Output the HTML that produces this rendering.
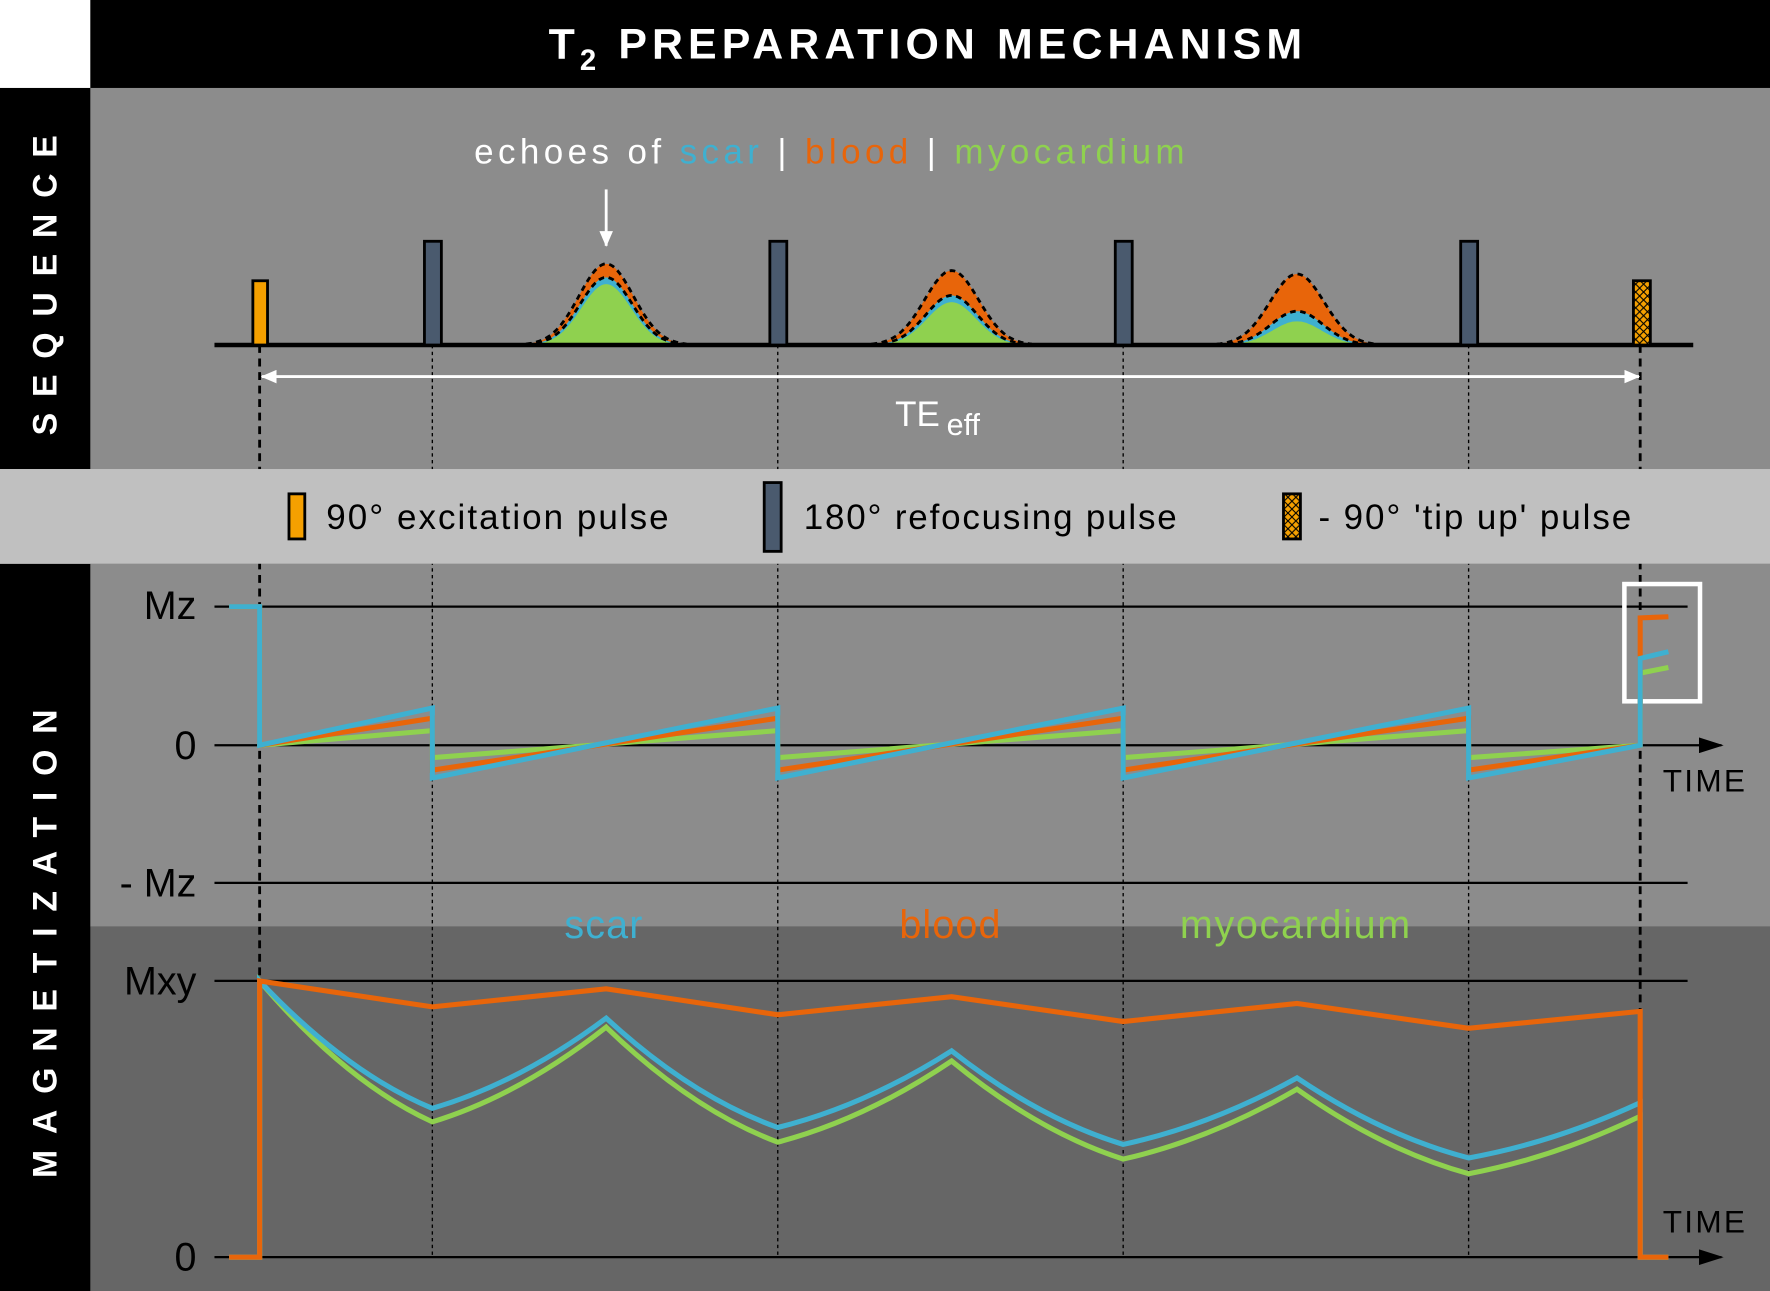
<!DOCTYPE html>
<html><head><meta charset="utf-8"><style>
html,body{margin:0;padding:0;background:#fff}
svg{display:block}
text{font-family:"Liberation Sans","DejaVu Sans",sans-serif}
</style></head><body>
<svg id="s" width="1770" height="1291" viewBox="0 0 1568 1145" preserveAspectRatio="none" xmlns="http://www.w3.org/2000/svg">
<defs>
<marker id="ah" markerWidth="14" markerHeight="12" refX="13" refY="6" orient="auto" markerUnits="userSpaceOnUse"><path d="M0,0 L14,6 L0,12 z" fill="#fff"/></marker>
<marker id="ahs" markerWidth="14" markerHeight="12" refX="1" refY="6" orient="auto" markerUnits="userSpaceOnUse"><path d="M14,0 L0,6 L14,12 z" fill="#fff"/></marker>
<marker id="ak" markerWidth="22" markerHeight="14" refX="20" refY="7" orient="auto" markerUnits="userSpaceOnUse"><path d="M0,0 L22,7 L0,14 z" fill="#000"/></marker>
<pattern id="hatch" width="7" height="7" patternUnits="userSpaceOnUse"><rect width="7" height="7" fill="#f5a000"/><path d="M0,0 L7,7 M7,0 L0,7" stroke="#000" stroke-width="1"/></pattern>
</defs>
<rect x="0" y="0" width="1568" height="1145" fill="#000"/>
<rect x="0" y="0" width="80" height="78" fill="#fff"/>
<rect x="80" y="78" width="1488" height="338" fill="#8c8c8c"/>
<rect x="0" y="416" width="1568" height="84" fill="#c0c0c0"/>
<rect x="80" y="500" width="1488" height="322" fill="#8c8c8c"/>
<rect x="80" y="822" width="1488" height="323" fill="#666"/>
<text x="822" y="52" fill="#fff" font-size="38" font-weight="bold" text-anchor="middle" letter-spacing="4.5">T<tspan font-size="26" dy="10">2</tspan><tspan dy="-10"> PREPARATION MECHANISM</tspan></text>
<text transform="translate(50,246) rotate(-90)" fill="#fff" font-size="30" font-weight="bold" text-anchor="middle" letter-spacing="14">SEQUENCE</text>
<text transform="translate(50,830) rotate(-90)" fill="#fff" font-size="30" font-weight="bold" text-anchor="middle" letter-spacing="14">MAGNETIZATION</text>
<g id="g"></g>
</svg>
<script>
const g=document.getElementById('g');let h='';
const S='#3fb0d0',B='#e8650a',M='#8fd14f';
h+=`<line x1="230" y1="306" x2="230" y2="1115" stroke="#000" stroke-width="2.5" stroke-dasharray="7,5"/>`;
h+=`<line x1="1453" y1="306" x2="1453" y2="1115" stroke="#000" stroke-width="2.5" stroke-dasharray="7,5"/>`;
for(const x of [383,689,995,1301])h+=`<line x1="${x}" y1="306" x2="${x}" y2="1115" stroke="#000" stroke-width="1.2" stroke-dasharray="3,3"/>`;
h+=`<rect x="0" y="416" width="1568" height="84" fill="#c0c0c0"/>`;
function gp(c,amp,w){let p=`M${c-70},306`;for(let x=-70;x<=70;x+=2){p+=` L${c+x},${(306-amp*Math.exp(-x*x/(2*w*w))).toFixed(1)}`}return p+` L${c+70},306 Z`;}
const ech=[[537,72,60,54],[843,66,44,38],[1149,63,30,21]];
for(const [c,b,s,m] of ech){
h+=`<path d="${gp(c,b,24)}" fill="${B}" stroke="#000" stroke-width="2.5" stroke-dasharray="5,4"/>`;
h+=`<path d="${gp(c,s,23)}" fill="${S}" stroke="#000" stroke-width="2.5" stroke-dasharray="5,4"/>`;
h+=`<path d="${gp(c,m,22)}" fill="${M}"/>`;}
h+=`<line x1="190" y1="306" x2="1500" y2="306" stroke="#000" stroke-width="4"/>`;
h+=`<rect x="224" y="249" width="13" height="57" fill="#f5a000" stroke="#000" stroke-width="2.5"/>`;
for(const x of [376,682,988,1294])h+=`<rect x="${x}" y="214" width="15" height="92" fill="#4a5a6e" stroke="#000" stroke-width="2.5"/>`;
h+=`<rect x="1447" y="249" width="15" height="57" fill="url(#hatch)" stroke="#000" stroke-width="2.5"/>`;
h+=`<line x1="537" y1="168" x2="537" y2="218" stroke="#fff" stroke-width="2.5" marker-end="url(#ah)"/>`;
h+=`<text x="420" y="145" font-size="31" fill="#fff" letter-spacing="3.9">echoes of <tspan fill="${S}">scar</tspan> | <tspan fill="${B}">blood</tspan> | <tspan fill="${M}">myocardium</tspan></text>`;
h+=`<line x1="232" y1="334" x2="1452" y2="334" stroke="#fff" stroke-width="2.5" marker-end="url(#ah)" marker-start="url(#ahs)"/>`;
h+=`<text x="793" y="378" font-size="31" fill="#fff">TE<tspan font-size="27" dx="6" dy="8">eff</tspan></text>`;
h+=`<rect x="256" y="438" width="14" height="40" fill="#f5a000" stroke="#000" stroke-width="2.5"/><text x="289" y="469" font-size="31" fill="#000" letter-spacing="1.8">90° excitation pulse</text>`;
h+=`<rect x="677" y="428" width="15" height="61" fill="#4a5a6e" stroke="#000" stroke-width="2.5"/><text x="712" y="469" font-size="31" fill="#000" letter-spacing="1.6">180° refocusing pulse</text>`;
h+=`<rect x="1137" y="438" width="15" height="40" fill="url(#hatch)" stroke="#000" stroke-width="2.5"/><text x="1168" y="469" font-size="31" fill="#000" letter-spacing="1.7">- 90° 'tip up' pulse</text>`;
for(const y of [538,783])h+=`<line x1="190" y1="${y}" x2="1495" y2="${y}" stroke="#000" stroke-width="2"/>`;
h+=`<line x1="190" y1="661" x2="1525" y2="661" stroke="#000" stroke-width="2" marker-end="url(#ak)"/>`;
h+=`<text x="174" y="549" font-size="35" fill="#000" text-anchor="end">Mz</text><text x="174" y="673" font-size="35" fill="#000" text-anchor="end">0</text><text x="174" y="795" font-size="35" fill="#000" text-anchor="end">- Mz</text>`;
h+=`<text x="1473" y="702" font-size="28" fill="#000" letter-spacing="2">TIME</text>`;
h+=`<rect x="1439" y="518" width="67" height="104" fill="none" stroke="#fff" stroke-width="4"/>`;
function mz(hi,lo,end,endr){let p=`M203,538 L230,538 L230,661 L383,${hi}`;
for(const x of [383,689,995]){p+=` L${x},${lo} L${x+306},${hi}`}
p+=` L1301,${lo} L1453,661 L1453,${end} L1478,${endr}`;return p;}
h+=`<path d="${mz(648,672,597,592)}" fill="none" stroke="${M}" stroke-width="4.5"/>`;
h+=`<path d="${mz(637,683,548,547)}" fill="none" stroke="${B}" stroke-width="4.5"/>`;
h+=`<path d="${mz(628,690,584,578)}" fill="none" stroke="${S}" stroke-width="4.5"/>`;
h+=`<line x1="190" y1="870" x2="1495" y2="870" stroke="#000" stroke-width="2"/>`;
h+=`<line x1="190" y1="1115" x2="1525" y2="1115" stroke="#000" stroke-width="2" marker-end="url(#ak)"/>`;
h+=`<text x="174" y="882" font-size="35" fill="#000" text-anchor="end">Mxy</text><text x="174" y="1127" font-size="35" fill="#000" text-anchor="end">0</text>`;
h+=`<text x="1473" y="1093" font-size="28" fill="#000" letter-spacing="2">TIME</text>`;
h+=`<text x="535" y="832" font-size="35" fill="${S}" text-anchor="middle" letter-spacing="1">scar</text><text x="842" y="832" font-size="35" fill="${B}" text-anchor="middle" letter-spacing="1">blood</text><text x="1148" y="832" font-size="35" fill="${M}" text-anchor="middle" letter-spacing="1.5">myocardium</text>`;
function mxy(v,curved){let xs=[230,383,537,689,843,995,1149,1301,1453];let p=`M203,1115 L230,1115 L230,870`;
for(let i=1;i<xs.length;i++){const x0=xs[i-1],x1=xs[i],y0=i==1?870:v[i-2],y1=v[i-1];
if(curved){const down=y1>y0;const cx=(x0+x1)/2;const cy=down?y0+(y1-y0)*0.72:y1+(y0-y1)*0.72;p+=` Q${cx},${cy} ${x1},${y1}`}else p+=` L${x1},${y1}`}
p+=` L1453,1115 L1478,1115`;return p;}
h+=`<path d="${mxy([995,911,1013,941,1028,966,1041,990],1)}" fill="none" stroke="${M}" stroke-width="4.5"/>`;
h+=`<path d="${mxy([983,903,1000,932,1015,956,1027,978],1)}" fill="none" stroke="${S}" stroke-width="4.5"/>`;
h+=`<path d="${mxy([893,877,900,884,906,890,912,897],0)}" fill="none" stroke="${B}" stroke-width="4.5"/>`;
g.innerHTML=h;
</script>
</body></html>
